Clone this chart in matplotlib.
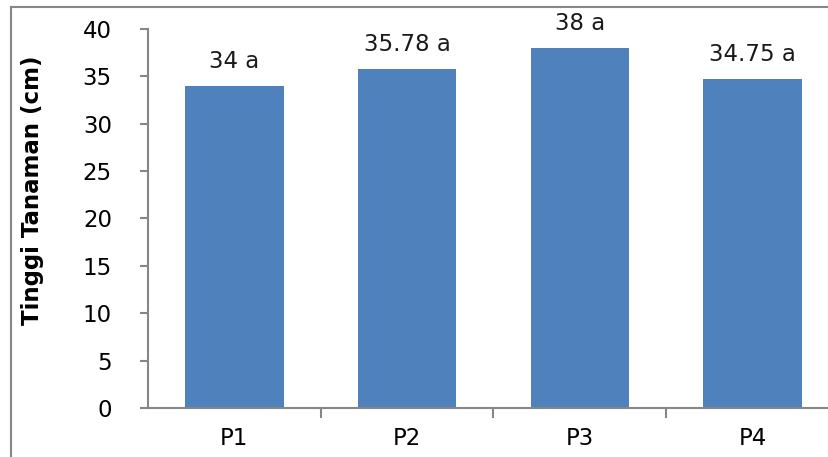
import matplotlib
matplotlib.use("Agg")
import matplotlib.pyplot as plt
from matplotlib.lines import Line2D

categories = ["P1", "P2", "P3", "P4"]
values = [34, 35.78, 38, 34.75]
labels = ["34 a", "35.78 a", "38 a", "34.75 a"]
yticks = [0, 5, 10, 15, 20, 25, 30, 35, 40]

W, H = 829, 457
fig = plt.figure(figsize=(W / 100, H / 100), dpi=100)
fig.patch.set_facecolor("white")

# outer chart frame (top and left visible)
fc = "#868686"
fig.lines.append(Line2D([11 / W, 11 / W], [0, (H - 7) / H], transform=fig.transFigure,
                        color=fc, linewidth=1.5))
fig.lines.append(Line2D([11 / W, 1.05], [(H - 7) / H, (H - 7) / H], transform=fig.transFigure,
                        color=fc, linewidth=1.5))

left, right = 148, 839
bottom, top = 408, 29
ax = fig.add_axes([left / W, (H - bottom) / H, (right - left) / W, (bottom - top) / H])
ax.set_facecolor("none")

x = list(range(len(categories)))
ax.bar(x, values, width=0.57, color="#4F81BD", zorder=2)
for xi, v, lab in zip(x, values, labels):
    ax.annotate(lab, (xi, v), xytext=(0, 9), textcoords="offset points",
                ha="center", va="bottom", fontsize=16.5, color="#1a1a1a")

ax.set_xlim(-0.5, 3.5)
ax.set_ylim(0, 40)
ax.set_yticks(yticks)
ax.set_yticklabels([str(t) for t in yticks], fontsize=16.5)
ax.set_xticks(x)
ax.set_xticklabels(categories, fontsize=16.5)
ax.set_xticks([0.5, 1.5, 2.5], minor=True)

for s in ["top", "right"]:
    ax.spines[s].set_visible(False)
for s in ["left", "bottom"]:
    ax.spines[s].set_color(fc)
    ax.spines[s].set_linewidth(1.5)

ax.tick_params(axis="y", direction="out", length=6, width=1.5, color=fc, pad=20)
ax.tick_params(axis="x", which="major", length=0, pad=14)
ax.tick_params(axis="x", which="minor", direction="out", length=7, width=1.5, color=fc)

fig.text(33 / W, 1 - 190 / H, "Tinggi Tanaman (cm)", rotation=90, ha="center", va="center",
         fontsize=16.5, fontweight="bold")

fig.savefig("out.png", dpi=100)
